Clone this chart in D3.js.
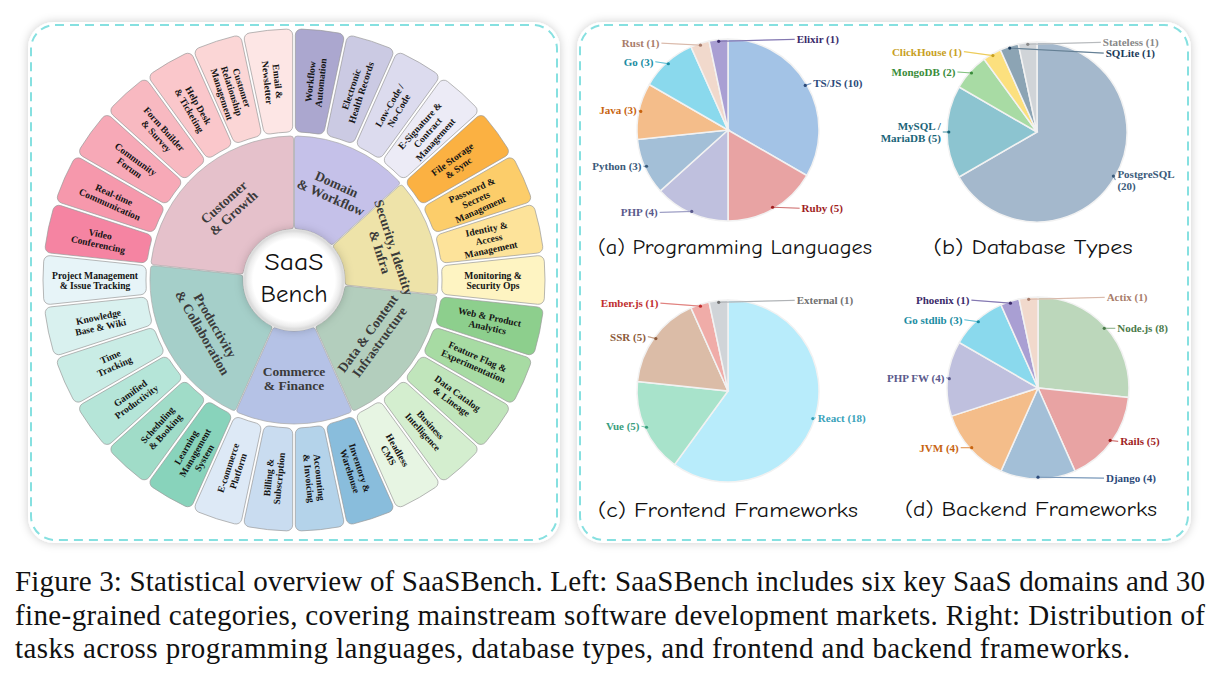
<!DOCTYPE html>
<html>
<head>
<meta charset="utf-8">
<script src="https://cdn.jsdelivr.net/npm/d3@7"></script>
<style>
  body { margin: 0; background: #fff; }
  svg { display: block; }
</style>
</head>
<body>
<svg id="fig" width="1219" height="683"></svg>
<script>
// ---- sunburst data (clockwise from 12 o'clock) ----
const domainLabels = ["Domain|& Workflow", "Security, Identity|& Infra", "Data & Content|Infrastructure",
  "Commerce|& Finance", "Productivity|& Collaboration", "Customer|& Growth"];
const domainColors = ["#c5c1e9", "#eee3a9", "#b3cebd", "#b5c2e6", "#a5cfc9", "#e5c1cb"];

const categoryLabels = [
  "Workflow|Automation", "Electronic|Health Records", "Low-Code /|No-Code", "E-Signature &|Contract|Management",
  "File Storage|& Sync", "Password &|Secrets|Management", "Identity &|Access|Management", "Monitoring &|Security Ops",
  "Web & Product|Analytics", "Feature Flag &|Experimentation", "Data Catalog|& Lineage", "Business|Intelligence", "Headless|CMS",
  "Inventory &|Warehouse", "Accounting|& Invoicing", "Billing &|Subscription", "E-commerce|Platform",
  "Learning|Management|System", "Scheduling|& Booking", "Gamified|Productivity", "Time|Tracking", "Knowledge|Base & Wiki", "Project Management|& Issue Tracking",
  "Video|Conferencing", "Real-time|Communication", "Community|Forum", "Form Builder|& Survey", "Help Desk|& Ticketing", "Customer|Relationship|Management", "Email &|Newsletter"
];
const categoryDomain = [0,0,0,0, 1,1,1,1, 2,2,2,2,2, 3,3,3,3, 4,4,4,4,4,4, 5,5,5,5,5,5,5];
const categoryColors = [
  "#aba7cf", "#cbcae3", "#dcdbee", "#ecebf6",
  "#fbb142", "#fccd6a", "#fde39a", "#fef4c2",
  "#8dcf8d", "#a7dba3", "#c0e5bb", "#d4eecf", "#e7f5e3",
  "#89bddc", "#b4d3ea", "#c9dcf0", "#dde9f6",
  "#88d3bb", "#a0dcc8", "#b5e5d8", "#c9ece5", "#d9f1ef", "#e7f4f8",
  "#f584a2", "#f698ac", "#f7a9b7", "#f8b9c1", "#fac7cb", "#fbd6d6", "#fde6e5"
];

// ---- pie data ----
const langNames = ["TS/JS", "Ruby", "PHP", "Python", "Java", "Go", "Rust", "Elixir"];
const langValues = [10, 5, 4, 3, 3, 3, 1, 1];
const langColors = ["#a3c3e6", "#e8a3a3", "#bfc0de", "#a3bfd7", "#f4bd8a", "#8ad9ed", "#f1d9cc", "#a99fd3"];
const langText = ["#2c4a7a", "#a01e1e", "#5a5a8c", "#3a5a7a", "#c8640f", "#1a8ca2", "#a87c6a", "#3a2a6a"];

const dbNames = ["PostgreSQL|", "MySQL /|MariaDB", "MongoDB", "ClickHouse", "SQLite", "Stateless"];
const dbValues = [20, 5, 2, 1, 1, 1];
const dbColors = ["#a4b8cc", "#8cc4d0", "#a8dba4", "#fce07e", "#8ca4b4", "#d0d4d8"];
const dbText = ["#3a5a7a", "#1a6478", "#3a8c3a", "#c8a01e", "#1a3a5a", "#888888"];

const feNames = ["React", "Vue", "SSR", "Ember.js", "External"];
const feValues = [18, 5, 5, 1, 1];
const feColors = ["#b8ecfb", "#a8e3cb", "#dbbca7", "#f0aca8", "#d0d4d8"];
const feText = ["#3aa2ba", "#3a9e7e", "#8c5a3a", "#c02e2e", "#707070"];

const beNames = ["Node.js", "Rails", "Django", "JVM", "PHP FW", "Go stdlib", "Phoenix", "Actix"];
const beValues = [8, 5, 4, 4, 4, 3, 1, 1];
const beColors = ["#bcd7bb", "#e8a3a3", "#a3bfd7", "#f4bd8a", "#bfc0de", "#8ad9ed", "#a99fd3", "#f1d9cc"];
const beText = ["#4a7a4a", "#a01e1e", "#2c4a7a", "#c8640f", "#5a5a8c", "#1a8ca2", "#3a2a6a", "#a87c6a"];

const captionLines = [
  "Figure 3: Statistical overview of SaaSBench. Left: SaaSBench includes six key SaaS domains and 30",
  "fine-grained categories, covering mainstream software development markets. Right: Distribution of",
  "tasks across programming languages, database types, and frontend and backend frameworks."
];

// ---- layout ----
const svg = d3.select("#fig");
const serif = "'Liberation Serif','Times New Roman',serif";
const comic = "'Comic Sans MS','Comic Neue','Chalkboard SE','Noto Sans',sans-serif";

const defs = svg.append("defs");
const sh = defs.append("filter").attr("id", "shadow").attr("x", "-10%").attr("y", "-10%").attr("width", "120%").attr("height", "120%");
sh.append("feDropShadow").attr("dx", 0).attr("dy", 0).attr("stdDeviation", 5)
  .attr("flood-color", "#000").attr("flood-opacity", 0.2);
const cg = defs.append("radialGradient").attr("id", "centerGrad");
cg.append("stop").attr("offset", "0%").attr("stop-color", "#ffffff");
cg.append("stop").attr("offset", "82%").attr("stop-color", "#ffffff");
cg.append("stop").attr("offset", "93%").attr("stop-color", "#ececec");
cg.append("stop").attr("offset", "100%").attr("stop-color", "#d4d4d4");

// panels
[[31, 25, 526, 515], [580, 25, 608, 515]].forEach(([x, y, w, h]) => {
  svg.append("rect").attr("x", x - 3).attr("y", y - 3).attr("width", w + 6).attr("height", h + 6)
    .attr("rx", 26).attr("fill", "#fff").attr("filter", "url(#shadow)");
  svg.append("rect").attr("x", x).attr("y", y).attr("width", w).attr("height", h)
    .attr("rx", 24).attr("fill", "none").attr("stroke", "#86e0e0")
    .attr("stroke-width", 2).attr("stroke-dasharray", "9 6");
});

// ---- sunburst ----
const cx = 294, cy = 280;
const sun = svg.append("g").attr("transform", `translate(${cx},${cy})`);

const domainCounts = domainLabels.map((d, i) => categoryDomain.filter(c => c === i).length);
const domainArcs = d3.pie().sort(null).value(d => d)(domainCounts);
const catArcs = d3.pie().sort(null).value(1)(categoryLabels);

const innerArc = d3.arc().innerRadius(51).outerRadius(144).padAngle(0.006).cornerRadius(3);
const outerArc = d3.arc().innerRadius(148).outerRadius(251).padAngle(0.009).cornerRadius(6);

sun.selectAll("path.dom").data(domainArcs).enter().append("path")
  .attr("class", "dom").attr("d", innerArc)
  .attr("fill", (d, i) => domainColors[i]).attr("stroke", "#a8a8a8").attr("stroke-width", 0.7);

sun.selectAll("path.cat").data(catArcs).enter().append("path")
  .attr("class", "cat").attr("d", outerArc)
  .attr("fill", (d, i) => categoryColors[i]).attr("stroke", "#9a9a9a").attr("stroke-width", 0.7);

const deg = r => r * 180 / Math.PI;

function multiLine(g, text, lh) {
  const lines = text.split("|");
  lines.forEach((l, i) => {
    g.append("tspan").attr("x", 0).attr("y", (i - (lines.length - 1) / 2) * lh).text(l);
  });
}

// outer category labels (radial)
catArcs.forEach((d, i) => {
  const a = deg((d.startAngle + d.endAngle) / 2);
  const rad = a * Math.PI / 180;
  const rot = a < 180 ? a - 90 : a - 270;
  const t = sun.append("text")
    .attr("transform", `translate(${199 * Math.sin(rad)},${-199 * Math.cos(rad)}) rotate(${rot})`)
    .attr("text-anchor", "middle").attr("dominant-baseline", "central")
    .attr("font-family", serif).attr("font-weight", "bold").attr("font-size", 9.6)
    .attr("fill", "#141414");
  multiLine(t, categoryLabels[i], 10.5);
});

// inner domain labels (tangential)
domainArcs.forEach((d, i) => {
  const a = deg((d.startAngle + d.endAngle) / 2);
  const rad = a * Math.PI / 180;
  const rot = (a <= 90 || a >= 270) ? a : a - 180;
  const t = sun.append("text")
    .attr("transform", `translate(${98 * Math.sin(rad)},${-98 * Math.cos(rad)}) rotate(${rot})`)
    .attr("text-anchor", "middle").attr("dominant-baseline", "central")
    .attr("font-family", serif).attr("font-weight", "bold").attr("font-size", 13.5)
    .attr("fill", "#3a3a3a");
  multiLine(t, domainLabels[i], 14.5);
});

// center badge
sun.append("circle").attr("r", 50).attr("fill", "url(#centerGrad)")
  .attr("stroke", "#dcdcdc").attr("stroke-width", 1.5).attr("filter", "url(#shadow)");
sun.append("text").attr("y", -10).attr("text-anchor", "middle").attr("font-family", comic)
  .attr("font-size", 25).attr("fill", "#111").attr("textLength", 59).attr("lengthAdjust", "spacingAndGlyphs").text("SaaS");
sun.append("text").attr("y", 22).attr("text-anchor", "middle").attr("font-family", comic)
  .attr("font-size", 25).attr("fill", "#111").attr("textLength", 67).attr("lengthAdjust", "spacingAndGlyphs").text("Bench");

// ---- pies ----
const pies = [
  { names: langNames, values: langValues, colors: langColors, text: langText, cx: 728, cy: 130, r: 91,
    title: "(a) Programming Languages", tx: 735, ty: 254, tw: 274,
    off: [[8, -2], [29, 1], [-34, 1], [-5, 0], [-4, -1], [-15, -2], [-41, -2], [78, -2]] },
  { names: dbNames, values: dbValues, colors: dbColors, text: dbText, cx: 1037, cy: 132, r: 90,
    title: "(b) Database Types", tx: 1033, ty: 254, tw: 199,
    off: [[4, 4], [-8, 0], [-16, -1], [-31, -4], [96, 5], [75, -2]] },
  { names: feNames, values: feValues, colors: feColors, text: feText, cx: 728, cy: 391, r: 91,
    title: "(c) Frontend Frameworks", tx: 728, ty: 517, tw: 260,
    off: [[5, -1], [-7, -1], [-10, -2], [-42, -3], [78, -2]] },
  { names: beNames, values: beValues, colors: beColors, text: beText, cx: 1038, cy: 388, r: 91,
    title: "(d) Backend Frameworks", tx: 1031, ty: 516, tw: 252,
    off: [[13, 0], [10, 1], [68, 1], [-13, 0], [-5, -1], [-16, -2], [-41, -3], [78, -2]] }
];

pies.forEach(p => {
  const g = svg.append("g").attr("transform", `translate(${p.cx},${p.cy})`);
  const arcs = d3.pie().sort(null).value(d => d)(p.values);
  const arc = d3.arc().innerRadius(0).outerRadius(p.r);
  const dotArc = d3.arc().innerRadius(p.r * 0.98).outerRadius(p.r * 0.98);

  g.selectAll("path").data(arcs).enter().append("path")
    .attr("d", arc).attr("fill", (d, i) => p.colors[i])
    .attr("stroke", "#f2f2f2").attr("stroke-width", 1.5);

  arcs.forEach((d, i) => {
    const [x, y] = dotArc.centroid(d);
    const [dx, dy] = p.off[i];
    const side = dx >= 0 ? 1 : -1;
    const lx = x + dx, ly = y + dy;
    g.append("line").attr("x1", x).attr("y1", y).attr("x2", lx - side * 2).attr("y2", ly)
      .attr("stroke", p.colors[i]).attr("stroke-width", 1.2);
    g.append("line").attr("x1", x).attr("y1", y).attr("x2", lx - side * 2).attr("y2", ly)
      .attr("stroke", p.text[i]).attr("stroke-opacity", 0.35).attr("stroke-width", 1);
    g.append("circle").attr("cx", x).attr("cy", y).attr("r", 1.6).attr("fill", p.text[i]);

    const parts = p.names[i].split("|");
    const lines = parts.slice(0, -1).concat([(parts[parts.length - 1] + " (" + p.values[i] + ")").trim()]);
    const t = g.append("text").attr("text-anchor", side > 0 ? "start" : "end")
      .attr("dominant-baseline", "central")
      .attr("font-family", serif).attr("font-weight", "bold").attr("font-size", 11)
      .attr("fill", p.text[i]);
    lines.forEach((l, k) => {
      t.append("tspan").attr("x", lx).attr("y", ly + (k - (lines.length - 1) / 2) * 11.5).text(l);
    });
  });

  svg.append("text").attr("x", p.tx).attr("y", p.ty).attr("text-anchor", "middle")
    .attr("font-family", comic).attr("font-size", 21).attr("fill", "#111")
    .attr("textLength", p.tw).attr("lengthAdjust", "spacingAndGlyphs").text(p.title);
});

// ---- caption ----
const capWidths = [1190, 1190, 1115];
captionLines.forEach((l, i) => {
  svg.append("text").attr("x", 15).attr("y", 591 + i * 33.5)
    .attr("font-family", serif).attr("font-size", 29).attr("fill", "#111")
    .attr("textLength", capWidths[i]).attr("lengthAdjust", "spacing").text(l);
});
</script>
</body>
</html>
